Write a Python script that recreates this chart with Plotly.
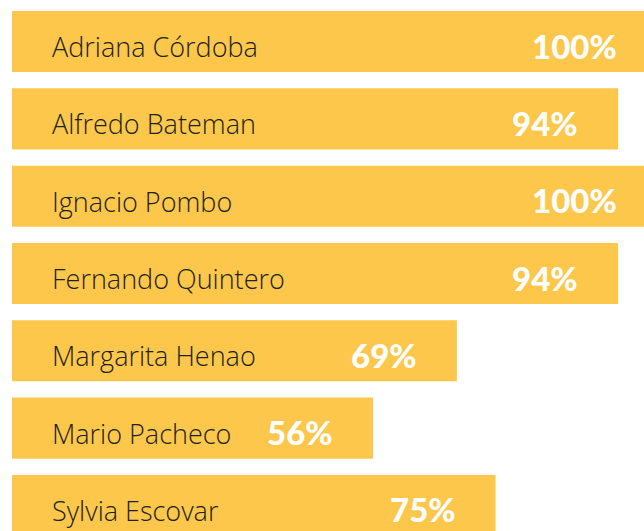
import plotly.graph_objects as go

# people and their completion share
names = [
    "Adriana Córdoba",
    "Alfredo Bateman",
    "Ignacio Pombo",
    "Fernando Quintero",
    "Margarita Henao",
    "Mario Pacheco",
    "Sylvia Escovar",
]
pct_values = [100, 94, 100, 94, 69, 56, 75]
pct_labels = [f"{v}%" for v in pct_values]

bar_color = "#FCC74B"
name_color = "#231F20"

rows = list(range(len(names)))

fig = go.Figure(
    go.Bar(
        x=pct_values,
        y=rows,
        orientation="h",
        width=0.79,
        marker=dict(color=bar_color, line=dict(width=0)),
        hoverinfo="skip",
    )
)

# names inside the bar, left side
for r, name in zip(rows, names):
    fig.add_annotation(
        x=0, y=r, xref="x", yref="y",
        text=name, showarrow=False,
        xanchor="left", yanchor="middle",
        xshift=38, yshift=-5,
        font=dict(family="Open Sans", size=27, color=name_color, weight=300),
    )

# percentage labels near the bar end
for r, v, lab in zip(rows, pct_values, pct_labels):
    fig.add_annotation(
        x=v, y=r, xref="x", yref="y",
        text=lab, showarrow=False,
        xanchor="right", yanchor="middle",
        xshift=-38, yshift=-4,
        font=dict(family="Lato", size=33, color="white", weight=900),
    )

# plot runs past the right edge of the window so the 100% bars look cut off
fig.update_xaxes(range=[0, 100.5], visible=False, fixedrange=True)
fig.update_yaxes(range=[6.33, -0.537], visible=False, fixedrange=True)

fig.update_layout(
    width=660,
    height=531,
    margin=dict(l=12, r=0, t=0, b=0),
    paper_bgcolor="white",
    plot_bgcolor="white",
    showlegend=False,
    bargap=0.21,
)

# drop the default page margin and the scrollbars
page_fix = (
    "document.body.style.margin='0';"
    "document.body.style.overflow='hidden';"
    "document.documentElement.style.overflow='hidden';"
)

fig.write_html("out.html", config={"displayModeBar": False}, post_script=page_fix)
